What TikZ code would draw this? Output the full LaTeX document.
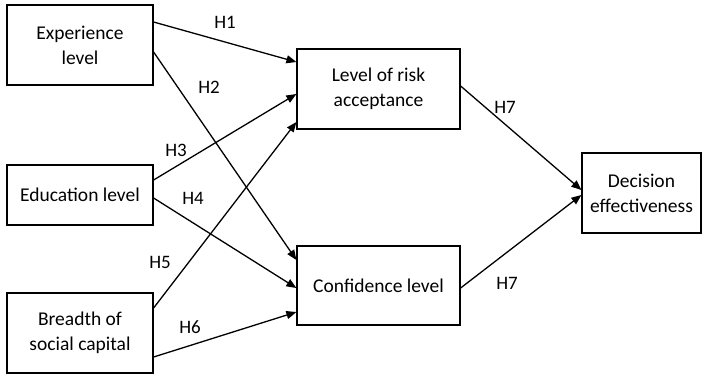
\documentclass[tikz,border=0pt]{standalone}
\usepackage{fontspec}
\setmainfont{Carlito}
\usetikzlibrary{arrows.meta}
\begin{document}
\begin{tikzpicture}[x=1pt,y=-1pt,
  box/.style={draw,line width=1.2pt,inner sep=0pt,align=center,font=\fontsize{19.5}{25}\selectfont},
  arr/.style={line width=1.3pt,-{Triangle[length=10pt,width=8pt]}},
  lab/.style={font=\fontsize{19}{22}\selectfont,inner sep=0pt}]
\useasboundingbox (0,0) rectangle (703,376);
\node[box,minimum width=146pt,minimum height=80pt] (exp) at (80,45) {Experience\\level};
\node[box,minimum width=146pt,minimum height=60pt] (edu) at (80,195) {Education level};
\node[box,minimum width=146pt,minimum height=80pt] (bre) at (80,333) {Breadth of\\social capital};
\node[box,minimum width=163pt,minimum height=80pt] (risk) at (378.5,89) {Level of risk\\acceptance};
\node[box,minimum width=163pt,minimum height=79pt] (conf) at (378.5,285.5) {Confidence level};
\node[box,minimum width=119pt,minimum height=80pt] (dec) at (641.5,193) {Decision\\effectiveness};
\draw[arr] ([yshift=23pt]exp.east) -- ([yshift=27pt]risk.west);
\draw[arr] ([yshift=-7pt]exp.east) -- ([yshift=25.5pt]conf.west);
\draw[arr] ([yshift=15pt]edu.east) -- ([yshift=-5pt]risk.west);
\draw[arr] ([yshift=-3pt]edu.east) -- ([yshift=-2.5pt]conf.west);
\draw[arr] ([yshift=25pt]bre.east) -- ([yshift=-33pt]risk.west);
\draw[arr] ([yshift=-24pt]bre.east) -- ([yshift=-26.5pt]conf.west);
\draw[arr] ([yshift=3pt]risk.east) -- ([yshift=3pt]dec.west);
\draw[arr] ([yshift=-2.5pt]conf.east) -- ([yshift=-2pt]dec.west);
\node[lab] (h1) at (225,22) {H1};
\node[lab] (h2) at (209,87) {H2};
\node[lab] (h3) at (176,150) {H3};
\node[lab] (h4) at (193,198) {H4};
\node[lab] (h5) at (160,262) {H5};
\node[lab] (h6) at (190,327) {H6};
\node[lab] (h7a) at (505,107) {H7};
\node[lab] (h7b) at (507,283) {H7};
\end{tikzpicture}
\end{document}
